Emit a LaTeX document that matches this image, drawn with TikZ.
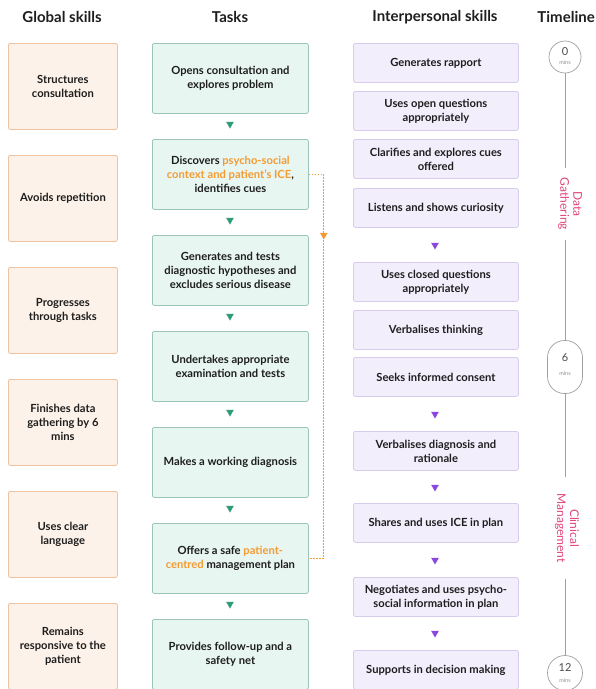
\documentclass[tikz,border=0pt]{standalone}
\usepackage{fontspec}
\setmainfont{Lato}
\usetikzlibrary{shapes.geometric}
\definecolor{gfill}{HTML}{FDF2E9}
\definecolor{gdraw}{HTML}{EDC3A0}
\definecolor{tfill}{HTML}{E8F6F2}
\definecolor{tdraw}{HTML}{9DC4BA}
\definecolor{pfill}{HTML}{F3EEFC}
\definecolor{pdraw}{HTML}{D8CCEC}
\definecolor{garr}{HTML}{2E9B7A}
\definecolor{parr}{HTML}{8B46DF}
\definecolor{orng}{HTML}{F39B33}
\definecolor{pinkt}{HTML}{E0457E}
\definecolor{tline}{HTML}{A0A0A0}
\definecolor{txt}{HTML}{1E1E1E}
\begin{document}
\begin{tikzpicture}[x=1pt,y=-1pt,
  box/.style={draw, rounded corners=2pt, line width=0.8pt, align=center, anchor=north west, inner sep=2pt, font=\fontsize{11.2}{14}\selectfont\bfseries, text=txt},
  gbox/.style={box, fill=gfill, draw=gdraw, minimum width=109pt, minimum height=86pt},
  tbox/.style={box, fill=tfill, draw=tdraw, minimum width=156pt, minimum height=70pt},
  pbox/.style={box, fill=pfill, draw=pdraw, minimum width=165pt, minimum height=39pt},
  hdr/.style={font=\fontsize{15}{17}\selectfont\bfseries, text=txt},
  tri/.style={regular polygon, regular polygon sides=3, shape border rotate=180, inner sep=0pt, minimum size=9pt},
  gtri/.style={tri, fill=garr},
  ptri/.style={tri, fill=parr},
  otri/.style={tri, fill=orng},
  tnode/.style={draw=tline, fill=white, line width=0.7pt, inner sep=0pt},
  big/.style={font=\fontsize{11}{11}\selectfont, text=black!70, inner sep=0pt},
  small/.style={font=\fontsize{5.5}{6}\selectfont, text=black!45, inner sep=0pt},
  phase/.style={rotate=-90, fill=white, text=pinkt, align=center, inner ysep=1pt, font=\fontsize{12}{13}\selectfont}
]
\fill[white] (0,0) rectangle (596,689);
\useasboundingbox (0,0) rectangle (596,689);

% headers
\node[hdr] (h1) at (62,17) {Global skills};
\node[hdr] (h2) at (230,17) {Tasks};
\node[hdr] (h3) at (435,17) {Interpersonal skills};
\node[hdr, anchor=east, inner xsep=1pt] (h4) at (596,17) {Timeline};

% global skills
\node[gbox] (g1) at (8,43) {Structures\\consultation};
\node[gbox] (g2) at (8,155) {Avoids repetition};
\node[gbox] (g3) at (8,267) {Progresses\\through tasks};
\node[gbox] (g4) at (8,379) {Finishes data\\gathering by 6\\mins};
\node[gbox] (g5) at (8,491) {Uses clear\\language};
\node[gbox] (g6) at (8,603) {Remains\\responsive to the\\patient};

% tasks
\node[tbox] (t1) at (152,43) {Opens consultation and\\explores problem};
\node[tbox] (t2) at (152,139) {Discovers \textcolor{orng}{psycho-social}\\\textcolor{orng}{context and patient's ICE},\\identifies cues};
\node[tbox] (t3) at (152,235) {Generates and tests\\diagnostic hypotheses and\\excludes serious disease};
\node[tbox] (t4) at (152,331) {Undertakes appropriate\\examination and tests};
\node[tbox] (t5) at (152,427) {Makes a working diagnosis};
\node[tbox] (t6) at (152,523) {Offers a safe \textcolor{orng}{patient-}\\\textcolor{orng}{centred} management plan};
\node[tbox] (t7) at (152,619) {Provides follow-up and a\\safety net};

\node[gtri] (ta1) at (230,124) {};
\node[gtri] (ta2) at (230,220) {};
\node[gtri] (ta3) at (230,316) {};
\node[gtri] (ta4) at (230,412) {};
\node[gtri] (ta5) at (230,508) {};
\node[gtri] (ta6) at (230,604) {};

% dotted link
\draw[orng, line width=0.9pt, dash pattern=on 1.6pt off 1.4pt] (t2.east) -- ++(15,0) coordinate (dl) |- (t6.east);
\node[otri] (oa) at (dl |- 0,235) {};

% interpersonal
\node[pbox] (p1) at (353,43) {Generates rapport};
\node[pbox] (p2) at (353,91) {Uses open questions\\appropriately};
\node[pbox] (p3) at (353,139) {Clarifies and explores cues\\offered};
\node[pbox] (p4) at (353,188) {Listens and shows curiosity};
\node[pbox] (p5) at (353,262) {Uses closed questions\\appropriately};
\node[pbox] (p6) at (353,310) {Verbalises thinking};
\node[pbox] (p7) at (353,357) {Seeks informed consent};
\node[pbox] (p8) at (353,431) {Verbalises diagnosis and\\rationale};
\node[pbox] (p9) at (353,503) {Shares and uses ICE in plan};
\node[pbox] (p10) at (353,577) {Negotiates and uses psycho-\\social information in plan};
\node[pbox] (p11) at (353,650) {Supports in decision making};

\node[ptri] (pa1) at (435,245) {};
\node[ptri] (pa2) at (435,414) {};
\node[ptri] (pa3) at (435,487) {};
\node[ptri] (pa4) at (435,560) {};
\node[ptri] (pa5) at (435,633) {};

% timeline
\node[tnode, circle, minimum size=32pt] (c0) at (565,57) {};
\node[tnode, rounded corners=17pt, rectangle, minimum width=35pt, minimum height=53pt] (c6) at (565,367) {};
\node[tnode, circle, minimum size=35pt] (c12) at (565,673) {};
\draw[tline, line width=0.6pt] (c0.south) -- (c6.north);
\draw[tline, line width=0.6pt] (c6.south) -- (c12.north);
\node[big] (n0) at (565,52) {0};
\node[small] (m0) at (565,63) {mins};
\node[big] (n6) at (565,358) {6};
\node[small] (m6) at (565,374) {mins};
\node[big] (n12) at (565,668) {12};
\node[small] (m12) at (565,681) {mins};
\node[phase, inner xsep=10pt] (dg) at (570,204) {Data\\Gathering};
\node[phase, inner xsep=16pt] (cm) at (567,528) {Clinical\\Management};
\end{tikzpicture}
\end{document}
